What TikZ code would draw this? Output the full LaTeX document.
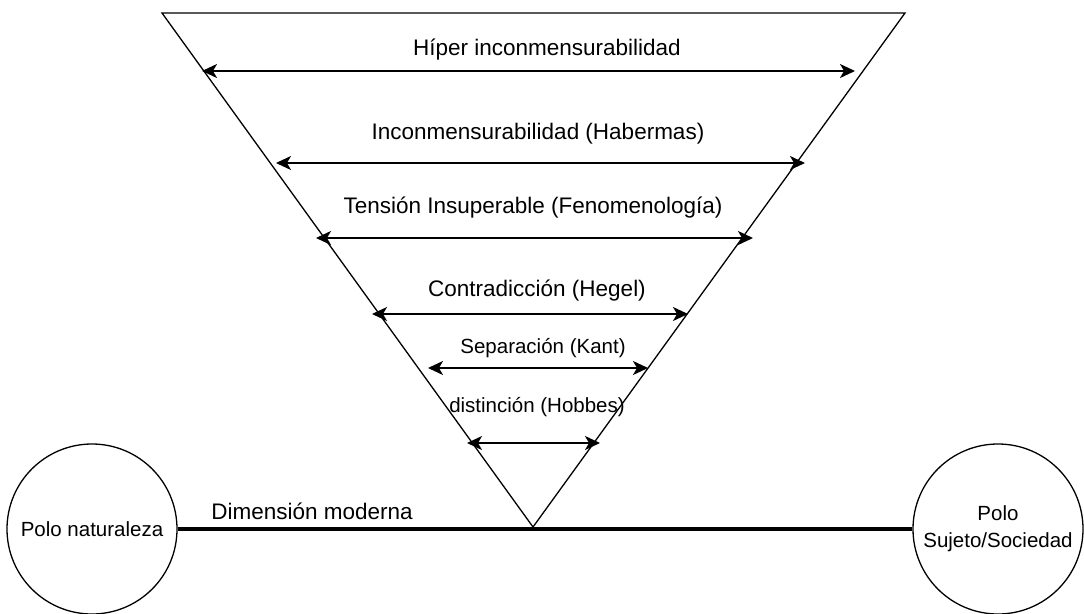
\documentclass[tikz,border=0pt]{standalone}
\usepackage{fontspec}
\setmainfont{Liberation Sans}
\usetikzlibrary{shapes,arrows.meta,positioning}
\tikzstyle{polo} = [circle, draw, line width=1.3pt, minimum size=170pt, inner sep=0pt,
align=center, font=\fontsize{20.5}{27}\selectfont]
\tikzstyle{nivel} = [anchor=base, inner sep=0pt, font=\fontsize{22.5}{27}\selectfont]
\tikzstyle{nivelch} = [anchor=base, inner sep=0pt, font=\fontsize{20.5}{27}\selectfont]
\tikzstyle{line} = [draw, line width=1.6pt,
{Stealth[length=15pt,width=14pt,inset=4pt]}-{Stealth[length=15pt,width=14pt,inset=4pt]}]

\begin{document}
\begin{tikzpicture}[x=1pt, y=-1pt]
    \useasboundingbox (0,0) rectangle (1084,613);
    % triangle
    \coordinate (tizq) at (162,13);
    \coordinate (tder) at (905,13);
    \coordinate (vert) at (533,527);
    \draw [line width=1.3pt, line join=miter] (tizq) -- (tder) -- (vert) -- cycle;

    % nodes
    \node [nivel] (hiper) at (547,55) {Híper inconmensurabilidad};
    \node [nivel] (incon) at (538,139) {Inconmensurabilidad (Habermas)};
    \node [nivel] (tension) at (533,213) {Tensión Insuperable (Fenomenología)};
    \node [nivel] (contra) at (537,296) {Contradicción (Hegel)};
    \node [nivelch] (separ) at (543,353) {Separación (Kant)};
    \node [nivelch] (distin) at (537,412) {distinción (Hobbes)};
    \node [polo] (polonat) at (92,529) {Polo naturaleza};
    \node [polo] (polosuj) at (998,529) {\raisebox{-4pt}{Polo}\\\raisebox{-4pt}{Sujeto/Sociedad}};
    \node [nivel] (dimmod) at (312,519) {Dimensión moderna};

    % arrow ends
    \coordinate (hiperi) at (202,71);   \coordinate (hiperd) at (855,71);
    \coordinate (inconi) at (276,163);  \coordinate (incond) at (805,163);
    \coordinate (tensi) at (316,238);   \coordinate (tensd) at (753,238);
    \coordinate (contri) at (372,314);  \coordinate (contrd) at (688,314);
    \coordinate (separi) at (428,368);  \coordinate (separd) at (648,368);
    \coordinate (distii) at (467,443);  \coordinate (distid) at (600,443);

    % edges
    \path [line] (hiperi) -- (hiperd);
    \path [line] (inconi) -- (incond);
    \path [line] (tensi) -- (tensd);
    \path [line] (contri) -- (contrd);
    \path [line] (separi) -- (separd);
    \path [line] (distii) -- (distid);
    \draw [line width=4.8pt] (polonat) -- (polosuj);

\end{tikzpicture}
\end{document}
